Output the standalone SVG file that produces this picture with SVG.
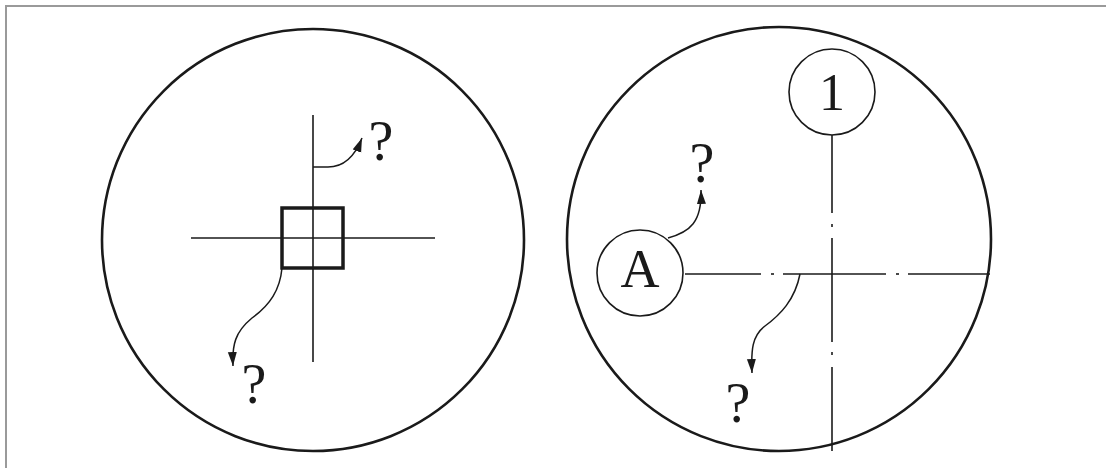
<svg xmlns="http://www.w3.org/2000/svg" width="1106" height="468" viewBox="0 0 1106 468">
<style>
.big{fill:none;stroke:#1a1a1a;stroke-width:2.6}
.thin{fill:none;stroke:#1a1a1a;stroke-width:1.6}
.lead{fill:none;stroke:#1a1a1a;stroke-width:1.5}
.sq{fill:none;stroke:#1a1a1a;stroke-width:3.5}
.lbl{font-family:"Liberation Serif",serif;fill:#1a1a1a;text-anchor:middle}
</style>
<defs>
<marker id="arr" markerUnits="userSpaceOnUse" markerWidth="16" markerHeight="12" refX="14" refY="4.5" orient="auto">
<path d="M0,0 L14,4.5 L0,9 z" fill="#1a1a1a"/>
</marker>
</defs>
<rect width="1106" height="468" fill="#fff"/>
<path d="M6,468 V6 H1106" fill="none" stroke="#9a9a9a" stroke-width="2"/>

<g id="left-view">
<circle class="big" cx="313" cy="240" r="211"/>
<line class="thin" x1="313" y1="115" x2="313" y2="362"/>
<line class="thin" x1="191" y1="238" x2="435" y2="238"/>
</g>
<g id="square">
<rect class="sq" x="282" y="208" width="61" height="60"/>
</g>

<g id="right-view">
<circle class="big" cx="779" cy="239" r="212"/>
<g id="centerlines">
<line class="thin" x1="832" y1="135" x2="832" y2="213"/>
<line class="thin" x1="832" y1="224" x2="832" y2="227"/>
<line class="thin" x1="832" y1="238" x2="832" y2="342"/>
<line class="thin" x1="832" y1="352" x2="832" y2="355"/>
<line class="thin" x1="832" y1="367" x2="832" y2="451"/>
<line class="thin" x1="685" y1="274" x2="761" y2="274"/>
<line class="thin" x1="771" y1="274" x2="774" y2="274"/>
<line class="thin" x1="783" y1="274" x2="886" y2="274"/>
<line class="thin" x1="896" y1="274" x2="899" y2="274"/>
<line class="thin" x1="908" y1="274" x2="990" y2="274"/>
</g>
</g>
<g id="node-1">
<circle class="thin" cx="832" cy="92" r="43"/>
<text class="lbl" x="832" y="110" font-size="52">1</text>
</g>
<g id="node-A">
<circle class="thin" cx="640" cy="273" r="43"/>
<text class="lbl" x="640" y="287" font-size="54">A</text>
</g>

<g id="connectors">
<path class="lead" d="M313,167 L328,167 C345,167 355,156 362,138" marker-end="url(#arr)"/>
<path class="lead" d="M282,268 C280,290 270,305 252,318 C235,332 232,345 233,366" marker-end="url(#arr)"/>
<path class="lead" d="M668,238 C690,232 702,222 701,190" marker-end="url(#arr)"/>
<path class="lead" d="M800,274 C795,300 780,315 765,326 C752,336 751,350 752,373" marker-end="url(#arr)"/>
</g>

<g id="labels">
<text class="lbl" x="381" y="160" font-size="56">?</text>
<text class="lbl" x="254" y="403" font-size="56">?</text>
<text class="lbl" x="702" y="182" font-size="56">?</text>
<text class="lbl" x="738" y="422" font-size="56">?</text>
</g>
</svg>
